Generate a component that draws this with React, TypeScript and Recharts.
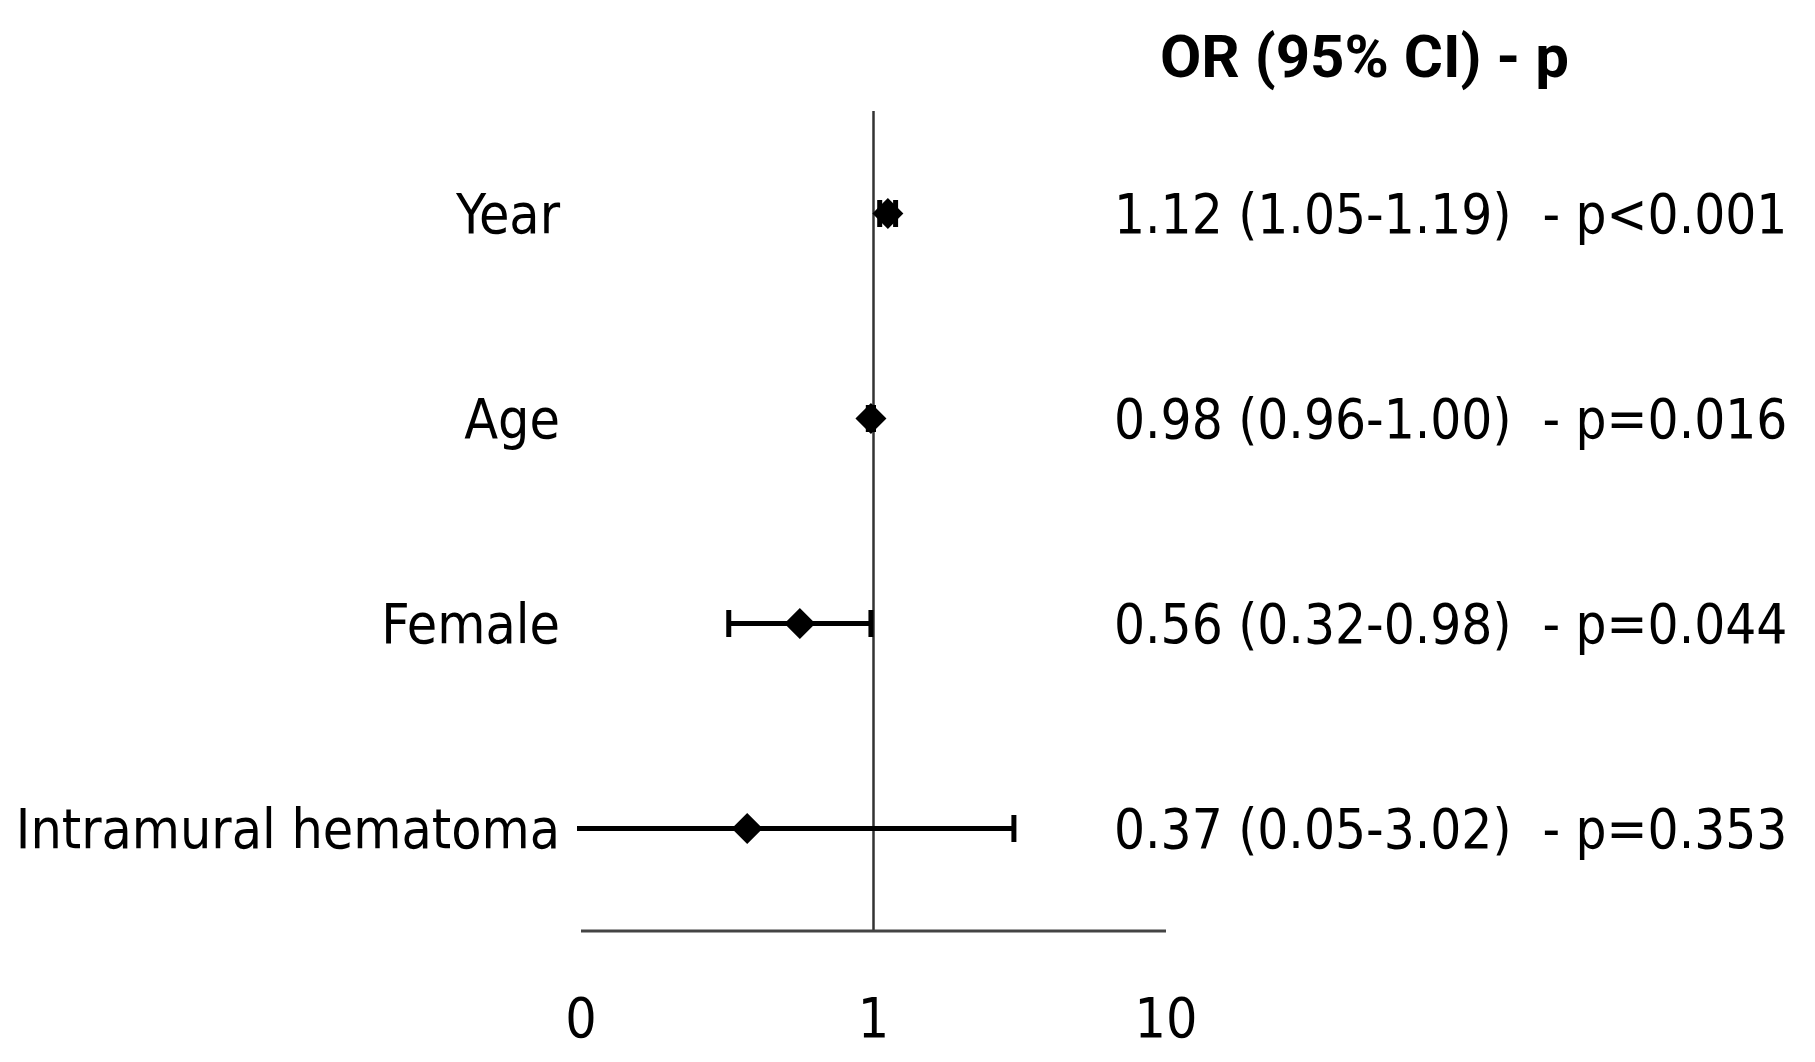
import React from 'react';
import { ScatterChart, Scatter, XAxis, YAxis, ErrorBar, ReferenceLine } from 'recharts';

// forest plot: odds ratios with 95% CI, log x axis
const factors = ['Year', 'Age', 'Female', 'Intramural hematoma'];
const oddsRatios = [1.12, 0.98, 0.56, 0.37];
const ciLower = [1.05, 0.96, 0.32, 0.05];
const ciUpper = [1.19, 1.0, 0.98, 3.02];
const pLabels = ['p<0.001', 'p=0.016', 'p=0.044', 'p=0.353'];
const xTicks = [0.1, 1, 10];
const xTickLabels = ['0', '1', '10'];
const rowTicks = [1, 2, 3, 4];

const data = factors.map((name, i) => ({
  row: i + 1,
  name,
  or: oddsRatios[i],
  ci: [oddsRatios[i] - ciLower[i], ciUpper[i] - oddsRatios[i]],
}));

const fmt = (v: number) => v.toFixed(2);
const orText = (i: number) =>
  `${fmt(oddsRatios[i])} (${fmt(ciLower[i])}-${fmt(ciUpper[i])})\u00A0 - ${pLabels[i]}`;

const FONT = '"DejaVu Sans Condensed", "DejaVu Sans", sans-serif';
const FONT_SIZE = 55;

const Diamond = (props: any) => {
  const { cx, cy } = props;
  const r = 15.5;
  return <path d={`M${cx},${cy - r}L${cx + r},${cy}L${cx},${cy + r}L${cx - r},${cy}Z`} fill="#000" />;
};

const renderRightTick = (props: any) => {
  const { x, y, payload } = props;
  return (
    <text x={x - 52} y={y} dy="0.36em" textAnchor="start" fontSize={54.3} fontFamily={FONT} fill="#000">
      {orText(payload.value - 1)}
    </text>
  );
};

export default function App() {
  return (
    <div style={{ position: 'absolute', left: 0, top: 0, width: 1815, height: 1062, background: '#fff' }}>
      {/* clip the error bars to the plot area (lower CI of 0.05 runs off the axis) */}
      <style>{`
        [class*="errorBar"] { clip-path: url(#plot-clip); }
        [class*="errorBar"] line, [class*="errorBar"] path { stroke-width: 5px !important; stroke: #000 !important; }
      `}</style>
      <svg width={0} height={0} style={{ position: 'absolute' }}>
        <defs>
          <clipPath id="plot-clip" clipPathUnits="userSpaceOnUse">
            <rect x={577} y={0} width={600} height={1062} />
          </clipPath>
        </defs>
      </svg>
      <ScatterChart width={1815} height={1062} margin={{ top: 111, right: 0, bottom: 0, left: 0 }}>
        <XAxis
          type="number"
          dataKey="or"
          scale="log"
          domain={[0.1, 10]}
          allowDataOverflow
          ticks={xTicks}
          tickFormatter={(v: number) => xTickLabels[xTicks.indexOf(v)] ?? String(v)}
          axisLine={{ stroke: '#444', strokeWidth: 3 }}
          tickLine={false}
          tickSize={0}
          tickMargin={67}
          height={131}
          tick={{ fontSize: FONT_SIZE, fill: '#000', fontFamily: FONT }}
        />
        <YAxis
          type="number"
          dataKey="row"
          domain={[0.5, 4.5]}
          reversed
          ticks={rowTicks}
          tickFormatter={(v: number) => factors[v - 1]}
          axisLine={false}
          tickLine={false}
          tickSize={0}
          tickMargin={21}
          width={581}
          tick={{ fontSize: FONT_SIZE, fill: '#000', fontFamily: FONT }}
        />
        <YAxis
          yAxisId="right"
          orientation="right"
          type="number"
          dataKey="row"
          domain={[0.5, 4.5]}
          reversed
          ticks={rowTicks}
          axisLine={false}
          tickLine={false}
          tickSize={0}
          tickMargin={0}
          width={649}
          tick={renderRightTick}
        />
        <ReferenceLine x={1} stroke="#333" strokeWidth={2.5} />
        <Scatter data={data} shape={<Diamond />} isAnimationActive={false}>
          <ErrorBar dataKey="ci" direction="x" width={13.5} stroke="#000" strokeWidth={5} isAnimationActive={false} />
        </Scatter>
        <Scatter yAxisId="right" data={data} shape={() => <g />} isAnimationActive={false} />
      </ScatterChart>
      <svg width={1815} height={120} style={{ position: 'absolute', left: 0, top: 0 }}>
        <text x={1160} y={77} fontSize={60} fontWeight="bold" fontFamily="Roboto, sans-serif" fill="#000">
          OR (95% CI) - p
        </text>
      </svg>
    </div>
  );
}
